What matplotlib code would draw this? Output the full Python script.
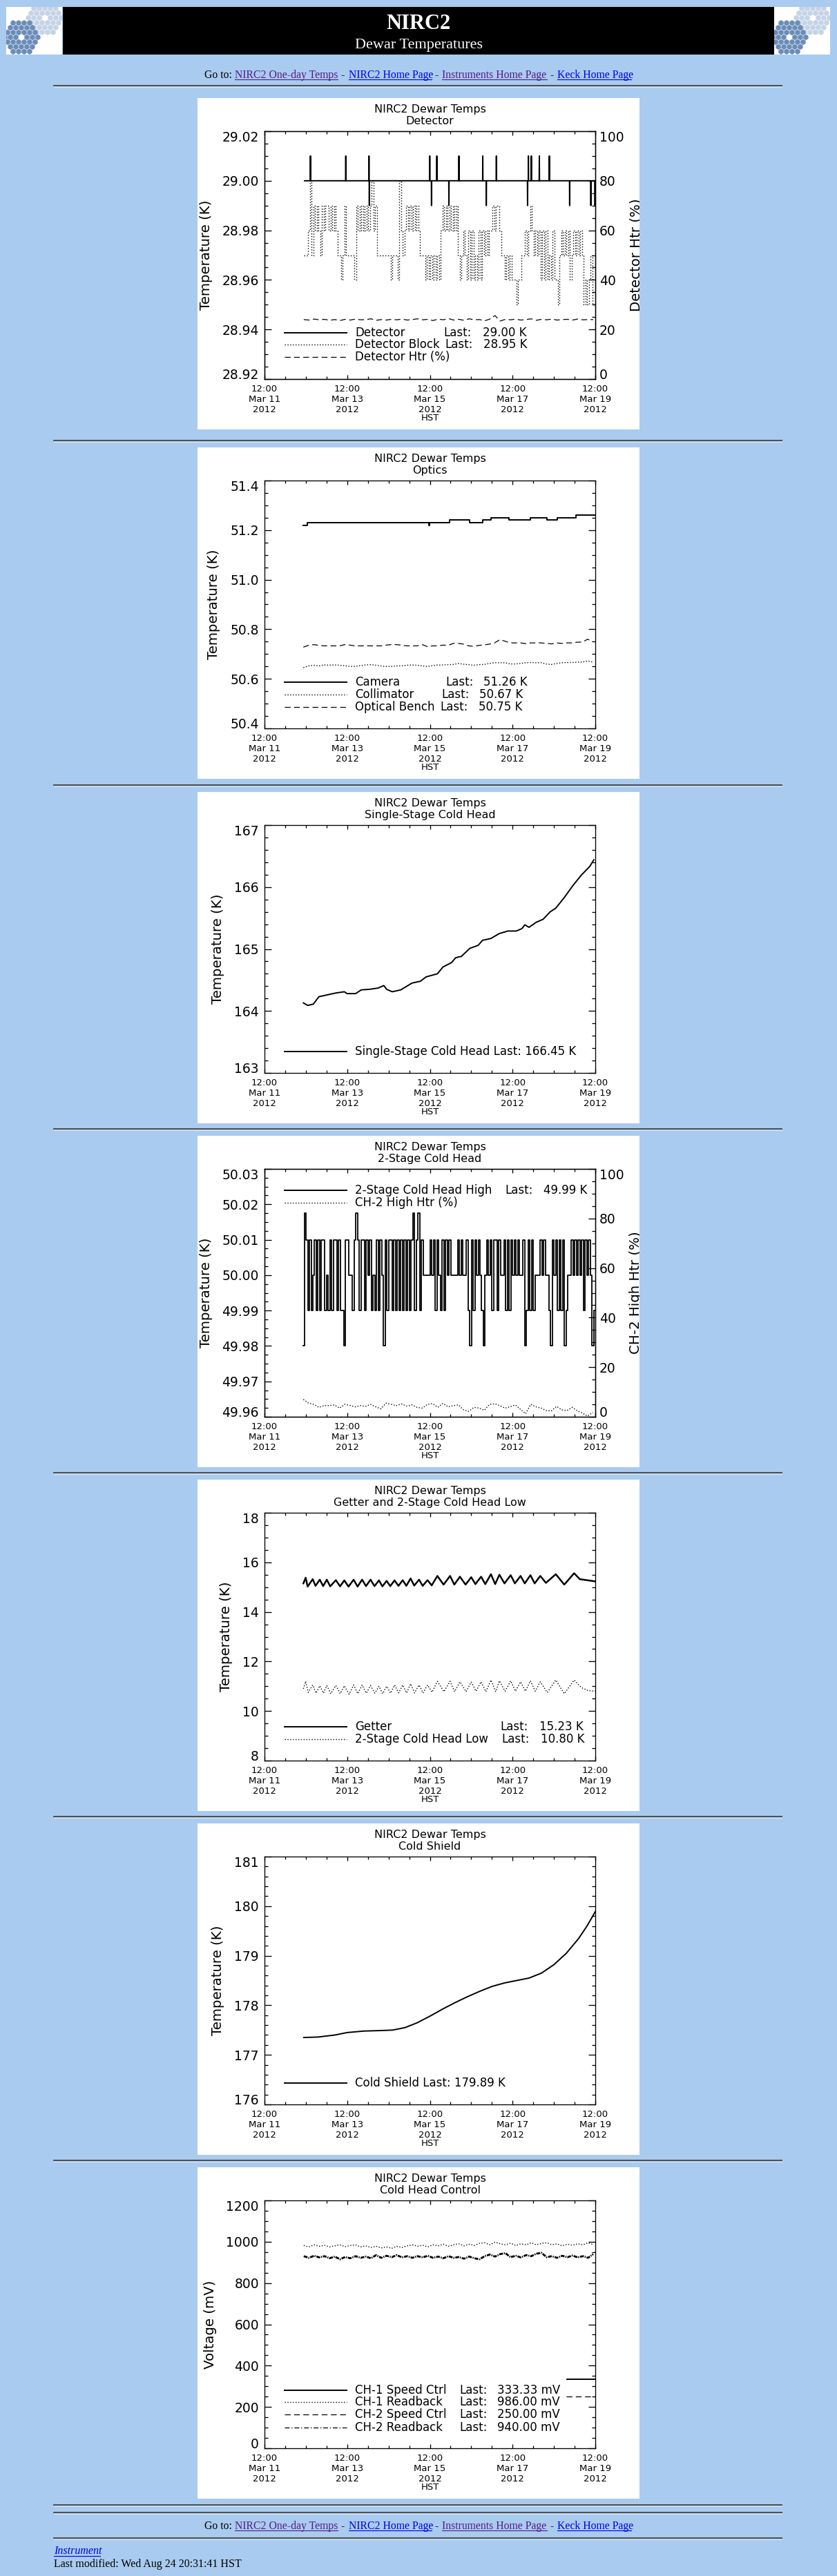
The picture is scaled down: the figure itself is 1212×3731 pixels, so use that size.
import math
from datetime import datetime, timedelta
import matplotlib
matplotlib.use('Agg')
import matplotlib.pyplot as plt
import matplotlib.dates as mdates
from matplotlib.ticker import FixedLocator, FormatStrFormatter, MultipleLocator
from matplotlib.transforms import Affine2D, Bbox
from matplotlib.patches import Rectangle, RegularPolygon
from matplotlib.lines import Line2D

plt.rcParams['font.family'] = ['DejaVu Sans']
plt.rcParams['lines.scale_dashes'] = False
plt.rcParams['axes.linewidth'] = 0.95

W, H = 1212, 3731
BG = '#A9CBEF'
T0 = datetime(2012, 3, 11, 12, 0)

# ------------------------------------------------------------------ data
# common x axis
x_major_days = [0, 2, 4, 6, 8]
x_minor_hours = [12 * i for i in range(17)]

# Panel 1 : Detector
det_base = 29.00
det_start, det_end = 0.97, 8.0
det_spikes = [(1.111, 29.01), (1.966, 29.01), (2.527, 29.01), (2.535, 28.99),
              (3.997, 29.01), (4.039, 28.99), (4.168, 29.01), (4.460, 28.99),
              (4.702, 29.01), (5.279, 29.01), (5.364, 28.99), (5.607, 29.01),
              (6.362, 28.99), (6.383, 29.01), (6.454, 29.01), (6.647, 29.01),
              (6.889, 29.01), (7.380, 28.99), (7.893, 28.99), (7.993, 28.99)]
block_start = 0.95
block_hundredths = [7, 7, 7, 8, 10, 7, 9, 8, 9, 8, 7, 9, 8, 9, 9, 8, 9, 8, 9, 8,
                    7, 7, 6, 7, 9, 7, 7, 7, 7, 7, 6, 9, 8, 9, 8, 9, 8, 9, 8, 9,
                    10, 8, 9, 7, 7, 7, 7, 7, 7, 7, 7, 6, 7, 7, 7, 6, 10, 8, 7, 8,
                    9, 8, 9, 8, 9, 8, 9, 8, 7, 7, 7, 6, 7, 6, 7, 6, 7, 6, 7, 6,
                    8, 9, 8, 9, 8, 9, 8, 9, 8, 9, 7, 6, 7, 8, 7, 6, 8, 6, 8, 6,
                    7, 6, 8, 6, 8, 7, 8, 7, 8, 8, 9, 8, 9, 9, 8, 7, 7, 6, 7, 6,
                    7, 6, 6, 6, 5, 6, 6, 7, 7, 8, 7, 8, 9, 8, 7, 8, 7, 8, 6, 8,
                    6, 8, 6, 7, 6, 8, 6, 6, 5, 7, 8, 7, 8, 7, 8, 6, 7, 8, 7, 8,
                    7, 8, 7, 5, 6, 5, 6, 7, 5, 5]
htr_start = 0.95
htr_pct = [24.0, 23.8, 24.2, 23.9, 24.1, 23.7, 24.0, 23.6, 24.1, 23.8, 24.2, 23.9,
           24.0, 24.3, 23.7, 24.0, 23.8, 24.1, 23.9, 24.2, 23.8, 24.0, 24.3, 23.9,
           24.1, 23.6, 24.2, 23.9, 24.4, 23.8, 24.1, 23.7, 24.3, 23.9, 24.0, 23.5,
           24.2, 25.6, 23.4, 24.1, 23.9, 24.2, 23.8, 24.0, 24.3, 23.7, 24.1, 23.9,
           24.2, 23.8, 24.0, 24.1, 23.8, 24.2, 23.9, 24.0, 24.0]

# Panel 2 : Optics
cam_days = [0.941, 1.030, 3.970, 3.985, 4.474, 4.965, 5.272, 5.300, 5.476, 5.920,
            6.431, 6.827, 7.079, 7.536, 8.0]
cam_vals = [51.22, 51.23, 51.22, 51.23, 51.24, 51.23, 51.24, 51.24, 51.25, 51.24,
            51.25, 51.24, 51.25, 51.26, 51.26]
optics_start = 0.94
bench_vals = [50.728, 50.735, 50.738, 50.735, 50.733, 50.733, 50.733, 50.733, 50.738, 50.736,
              50.733, 50.733, 50.733, 50.733, 50.733, 50.733, 50.736, 50.738, 50.738, 50.736,
              50.733, 50.733, 50.733, 50.738, 50.730, 50.733, 50.733, 50.736, 50.735, 50.743,
              50.743, 50.740, 50.733, 50.731, 50.735, 50.737, 50.740, 50.745, 50.758, 50.752,
              50.745, 50.745, 50.745, 50.742, 50.745, 50.745, 50.745, 50.743, 50.741, 50.745,
              50.743, 50.745, 50.745, 50.748, 50.748, 50.760, 50.750]
coll_vals = [50.645, 50.652, 50.655, 50.652, 50.656, 50.655, 50.656, 50.655, 50.653, 50.650,
             50.650, 50.653, 50.656, 50.657, 50.655, 50.652, 50.650, 50.650, 50.652, 50.652,
             50.655, 50.656, 50.655, 50.652, 50.650, 50.653, 50.656, 50.656, 50.657, 50.658,
             50.662, 50.659, 50.657, 50.655, 50.657, 50.658, 50.662, 50.665, 50.665, 50.665,
             50.660, 50.660, 50.662, 50.665, 50.666, 50.665, 50.665, 50.660, 50.658, 50.662,
             50.665, 50.666, 50.666, 50.667, 50.668, 50.672, 50.668]

# Panel 3 : Single-Stage Cold Head
ss_days = [0.941, 1.043, 1.180, 1.316, 1.521, 1.725, 1.930, 1.998, 2.203, 2.339,
           2.544, 2.748, 2.885, 2.953, 3.089, 3.294, 3.567, 3.771, 3.908, 4.181,
           4.317, 4.522, 4.624, 4.760, 4.965, 5.170, 5.272, 5.476, 5.681, 5.886,
           6.090, 6.227, 6.295, 6.397, 6.568, 6.738, 6.909, 7.045, 7.250, 7.454,
           7.659, 7.863, 7.966]
ss_vals = [164.13, 164.09, 164.11, 164.23, 164.26, 164.29, 164.31, 164.28, 164.28, 164.34,
           164.35, 164.37, 164.41, 164.35, 164.31, 164.34, 164.45, 164.48, 164.55, 164.60,
           164.71, 164.78, 164.86, 164.88, 165.01, 165.06, 165.14, 165.17, 165.25, 165.29,
           165.29, 165.33, 165.39, 165.35, 165.43, 165.48, 165.60, 165.66, 165.83, 166.02,
           166.19, 166.33, 166.44]

# Panel 4 : 2-Stage Cold Head (hourly samples, code per sample)
ch_high_start = 0.94
ch_high_levels = {'8': 49.98, '9': 49.99, '0': 50.00, '1': 50.01, 'S': 50.0175}
ch_high_codes = ("8S19190191" "9119091911" "9199811009" "1S19119101" "9091910819"
                 "1191919191" "9191S91S91" "0000101910" "9191010000" "1010019819"
                 "1010980101" "9119100191" "9101010018" "9191900010" "1009810191"
                 "9189001010" "1019101089")
ch_htr_start = 0.94
ch_htr_pct = [7.0, 5.5, 5.0, 3.8, 4.5, 4.5, 4.8, 3.5, 5.0, 4.6, 4.0, 4.5, 4.2, 5.0, 4.0,
              3.2, 5.5, 5.0, 4.5, 5.2, 4.3, 4.8, 3.8, 3.5, 5.0, 5.3, 3.8, 5.4, 4.0, 4.5,
              4.8, 2.8, 2.2, 3.8, 3.5, 2.6, 5.0, 5.2, 4.5, 3.5, 4.0, 4.8, 3.0, 1.2, 5.0,
              4.0, 3.5, 2.5, 2.4, 4.2, 2.8, 2.5, 3.8, 2.4, 1.5, 0.3, 1.8]

# Panel 5 : Getter and 2-Stage Cold Head Low
getter_days = [0.941, 0.996, 1.043, 1.166, 1.234, 1.337, 1.419, 1.507, 1.589, 1.725,
               1.828, 1.930, 2.032, 2.155, 2.251, 2.360, 2.455, 2.564, 2.660, 2.769,
               2.851, 2.953, 3.042, 3.144, 3.240, 3.342, 3.430, 3.533, 3.621, 3.737,
               3.826, 3.942, 4.044, 4.181, 4.331, 4.488, 4.590, 4.726, 4.863, 4.999,
               5.101, 5.238, 5.340, 5.476, 5.579, 5.681, 5.804, 5.954, 6.056, 6.193,
               6.295, 6.431, 6.534, 6.670, 6.806, 7.045, 7.250, 7.488, 7.625, 8.000]
getter_vals = [15.15, 15.38, 15.02, 15.32, 15.05, 15.30, 15.04, 15.30, 15.03, 15.28,
               15.03, 15.27, 15.02, 15.30, 15.02, 15.30, 15.04, 15.30, 15.04, 15.27,
               15.03, 15.25, 15.04, 15.27, 15.05, 15.28, 15.05, 15.35, 15.06, 15.30,
               15.05, 15.28, 15.07, 15.45, 15.10, 15.45, 15.10, 15.42, 15.10, 15.40,
               15.12, 15.42, 15.12, 15.52, 15.12, 15.50, 15.15, 15.48, 15.15, 15.45,
               15.15, 15.48, 15.15, 15.45, 15.17, 15.52, 15.10, 15.56, 15.32, 15.23]
low_days = [0.941, 0.996, 1.057, 1.166, 1.248, 1.337, 1.425, 1.507, 1.603, 1.725,
            1.835, 1.930, 2.046, 2.155, 2.257, 2.360, 2.462, 2.564, 2.667, 2.769,
            2.858, 2.953, 3.049, 3.144, 3.246, 3.342, 3.437, 3.533, 3.628, 3.737,
            3.833, 3.942, 4.051, 4.181, 4.338, 4.488, 4.597, 4.726, 4.876, 4.999,
            5.115, 5.238, 5.354, 5.476, 5.592, 5.681, 5.817, 5.954, 6.070, 6.193,
            6.309, 6.431, 6.547, 6.670, 6.840, 7.045, 7.250, 7.488, 7.659, 7.829, 8.000]
low_vals = [10.90, 11.20, 10.75, 11.05, 10.72, 11.02, 10.72, 11.03, 10.70, 11.03,
            10.70, 11.02, 10.68, 11.05, 10.70, 11.05, 10.72, 11.03, 10.72, 11.00,
            10.70, 11.00, 10.72, 11.05, 10.73, 11.05, 10.73, 11.10, 10.73, 11.05,
            10.73, 11.05, 10.76, 11.20, 10.78, 11.20, 10.78, 11.18, 10.78, 11.17,
            10.80, 11.18, 10.78, 11.25, 10.78, 11.22, 10.80, 11.22, 10.80, 11.18,
            10.80, 11.22, 10.80, 11.18, 10.75, 11.25, 10.70, 11.25, 10.95, 10.82, 10.80]

# Panel 6 : Cold Shield
cs_days = [0.95, 1.3, 1.7, 2.0, 2.4, 2.8, 3.1, 3.4, 3.7, 4.0, 4.3, 4.6, 4.9, 5.2,
           5.5, 5.8, 6.1, 6.4, 6.7, 7.0, 7.3, 7.6, 7.8, 8.0]
cs_vals = [177.35, 177.36, 177.40, 177.45, 177.48, 177.49, 177.50, 177.55, 177.65,
           177.78, 177.92, 178.05, 178.17, 178.28, 178.38, 178.45, 178.50, 178.55,
           178.65, 178.82, 179.05, 179.35, 179.60, 179.89]

# Panel 7 : Cold Head Control
ch1_speed_days, ch1_speed_vals = [7.31, 8.0], [333.33, 333.33]
ch2_speed_days, ch2_speed_vals = [7.30, 8.0], [250.0, 250.0]
rb_start = 0.95
ch1_rb = [982, 975, 985, 978, 983, 975, 980, 985, 976, 982, 985, 975, 980, 972, 978,
          970, 975, 968, 978, 972, 980, 985, 978, 983, 975, 985, 980, 988, 978, 985,
          990, 980, 988, 982, 992, 995, 985, 998, 990, 985, 993, 982, 990, 985, 995,
          985, 992, 995, 985, 990, 980, 988, 983, 990, 985, 995, 986]
ch2_rb = [930, 922, 932, 924, 930, 920, 928, 915, 926, 920, 930, 922, 928, 920, 935,
          922, 932, 925, 935, 924, 930, 922, 930, 924, 932, 922, 928, 920, 930, 922,
          926, 918, 928, 920, 915, 930, 938, 928, 940, 945, 925, 932, 924, 935, 930,
          942, 946, 925, 930, 922, 932, 925, 933, 924, 930, 922, 940]

# ------------------------------------------------------------------ figure
fig = plt.figure(figsize=(W / 100, H / 100), dpi=100, facecolor=BG)
PX = Affine2D().scale(1.0 / W, -1.0 / H).translate(0, 1) + fig.transFigure


def to_dt(days):
    return [T0 + timedelta(days=d) for d in days]


def seq_days(start, n, step):
    return [start + i * step for i in range(n)]


PANEL_TOPS = [142, 648, 1147, 1645, 2143, 2641, 3139]
PL, PW, PH = 286, 640, 480

SOLID = dict(ls='-', lw=1.4)
DOT = dict(ls=(0, (1.0, 1.8)), lw=1.0)
DASH = dict(ls=(0, (6, 3.6)), lw=0.9)
DASHDOT = dict(ls=(0, (5, 2, 1, 2)), lw=0.9)


def style_x(ax):
    ax.set_xlim(T0, T0 + timedelta(days=8))
    ax.xaxis.set_major_locator(FixedLocator([mdates.date2num(T0 + timedelta(days=d)) for d in x_major_days]))
    ax.xaxis.set_minor_locator(FixedLocator([mdates.date2num(T0 + timedelta(hours=h)) for h in x_minor_hours]))
    ax.xaxis.set_major_formatter(mdates.DateFormatter('%H:%M\n%b %d\n%Y'))
    ax.tick_params(axis='x', which='both', direction='in', top=True, bottom=True, width=0.95)
    ax.tick_params(axis='x', which='major', length=4.5, pad=5.6, labelsize=9.5)
    ax.tick_params(axis='x', which='minor', length=2.9)
    for t in ax.xaxis.get_major_ticks():
        t.label1.set_linespacing(1.2)
    ax.set_xlabel('HST', fontsize=9.5)
    ax.xaxis.set_label_coords(0.5, -0.14)


def style_y(axis_obj, ax, ticks, minor, fmt, side='left'):
    ax.set_ylim(ticks[0], ticks[-1])
    axis_obj.set_major_locator(FixedLocator(ticks))
    axis_obj.set_minor_locator(MultipleLocator(minor))
    axis_obj.set_major_formatter(FormatStrFormatter(fmt))
    pad = 5.8 if side == 'left' else 4.3
    ax.tick_params(axis='y', which='major', direction='in', length=7.2, width=0.95, pad=pad, labelsize=13.5)
    ax.tick_params(axis='y', which='minor', direction='in', length=3.6, width=0.95)
    ticks_objs = axis_obj.get_major_ticks()
    lab = (lambda t: t.label1) if side == 'left' else (lambda t: t.label2)
    lab(ticks_objs[0]).set_va('baseline')
    lab(ticks_objs[-1]).set_va('top')


def make_panel(top, sub, ylabel, yticks, yminor, yfmt, twin=None):
    fig.add_artist(Rectangle((PL, top), PW, PH, transform=PX, facecolor='white',
                             edgecolor='none', zorder=-1))
    ax = fig.add_axes([(PL + 97) / W, 1 - (top + 407) / H, 479 / W, 359 / H])
    ax.set_facecolor('white')
    style_x(ax)
    style_y(ax.yaxis, ax, yticks, yminor, yfmt, 'left')
    ax.tick_params(axis='y', which='both', left=True, right=(twin is None))
    ax.set_ylabel(ylabel, fontsize=14.2, labelpad=10)
    ax.set_title('NIRC2 Dewar Temps\n' + sub, fontsize=11.5, pad=7.2, linespacing=1.15)
    ax2 = None
    if twin is not None:
        rlabel, rticks, rminor = twin
        ax2 = ax.twinx()
        style_y(ax2.yaxis, ax2, rticks, rminor, '%d', 'right')
        ax2.tick_params(axis='y', which='both', right=True, left=False)
        ax2.set_ylabel(rlabel, fontsize=14.2, labelpad=5.5)
        lbl = ax2.yaxis.label
        lbl.set_clip_box(Bbox.from_extents(PL, H - (top + PH), PL + PW, H - top))
        lbl.set_clip_on(True)
    return ax, ax2


def legend_row(top, ry, style, name, last_x=None, value=None, value_x=None):
    y = top + ry
    fig.add_artist(Line2D([PL + 126, PL + 216], [y, y], transform=PX, color='black', **style))
    fig.text(PL + 228, y, name, transform=PX, ha='left', va='center', fontsize=12)
    if last_x is not None:
        fig.text(PL + last_x, y, 'Last:', transform=PX, ha='left', va='center', fontsize=12)
        fig.text(PL + value_x, y, value, transform=PX, ha='left', va='center', fontsize=12)


# ---- Panel 1
top = PANEL_TOPS[0]
ax, ax2 = make_panel(top, 'Detector', 'Temperature (K)',
                     [28.92, 28.94, 28.96, 28.98, 29.00, 29.02], 0.005, '%.2f',
                     twin=('Detector Htr (%)', [0, 20, 40, 60, 80, 100], 5))
det_d, det_v = [det_start], [det_base]
for d, v in det_spikes:
    det_d += [d - 0.004, d, d + 0.004]
    det_v += [det_base, v, det_base]
det_d.append(det_end)
det_v.append(det_base)
ax.plot(to_dt(det_d), det_v, color='black', **SOLID)
block_vals = [28.90 + c / 100.0 for c in block_hundredths]
ax.plot(to_dt(seq_days(block_start, len(block_vals), 1 / 24)), block_vals, color='black',
        drawstyle='steps-mid', **DOT)
ax2.plot(to_dt(seq_days(htr_start, len(htr_pct), 0.125)), htr_pct, color='black', **DASH)
legend_row(top, 340, SOLID, 'Detector', 356, '29.00 K', 413)
legend_row(top, 357, DOT, 'Detector Block', 358, '28.95 K', 414)
legend_row(top, 375, DASH, 'Detector Htr (%)')

# ---- Panel 2
top = PANEL_TOPS[1]
ax, _ = make_panel(top, 'Optics', 'Temperature (K)',
                   [50.4, 50.6, 50.8, 51.0, 51.2, 51.4], 0.05, '%.1f')
ax.plot(to_dt(cam_days), cam_vals, color='black', drawstyle='steps-post', **SOLID)
od = to_dt(seq_days(optics_start, len(coll_vals), 0.125))
ax.plot(od, coll_vals, color='black', **DOT)
ax.plot(od, bench_vals, color='black', **DASH)
legend_row(top, 340, SOLID, 'Camera', 359, '51.26 K', 414)
legend_row(top, 358, DOT, 'Collimator', 353, '50.67 K', 408)
legend_row(top, 376, DASH, 'Optical Bench', 351, '50.75 K', 407)

# ---- Panel 3
top = PANEL_TOPS[2]
ax, _ = make_panel(top, 'Single-Stage Cold Head', 'Temperature (K)',
                   [163, 164, 165, 166, 167], 0.2, '%d')
ax.plot(to_dt(ss_days), ss_vals, color='black', **SOLID)
legend_row(top, 376, SOLID, 'Single-Stage Cold Head Last: 166.45 K')

# ---- Panel 4
top = PANEL_TOPS[3]
ax, ax2 = make_panel(top, '2-Stage Cold Head', 'Temperature (K)',
                     [49.96, 49.97, 49.98, 49.99, 50.00, 50.01, 50.02, 50.03], 0.0025, '%.2f',
                     twin=('CH-2 High Htr (%)', [0, 20, 40, 60, 80, 100], 5))
ch_high_vals = [ch_high_levels[c] for c in ch_high_codes]
ax.plot(to_dt(seq_days(ch_high_start, len(ch_high_vals), 1 / 24)), ch_high_vals,
        color='black', ls='-', lw=1.3, drawstyle='steps-mid')
ax2.plot(to_dt(seq_days(ch_htr_start, len(ch_htr_pct), 0.125)), ch_htr_pct, color='black', **DOT)
legend_row(top, 79, SOLID, '2-Stage Cold Head High', 445, '49.99 K', 501)
legend_row(top, 97, DOT, 'CH-2 High Htr (%)')

# ---- Panel 5
top = PANEL_TOPS[4]
ax, _ = make_panel(top, 'Getter and 2-Stage Cold Head Low', 'Temperature (K)',
                   [8, 10, 12, 14, 16, 18], 0.5, '%d')
ax.plot(to_dt(getter_days), getter_vals, color='black', ls='-', lw=1.8)
ax.plot(to_dt(low_days), low_vals, color='black', **DOT)
legend_row(top, 358, SOLID, 'Getter', 438, '15.23 K', 495)
legend_row(top, 376, DOT, '2-Stage Cold Head Low', 440, '10.80 K', 497)

# ---- Panel 6
top = PANEL_TOPS[5]
ax, _ = make_panel(top, 'Cold Shield', 'Temperature (K)',
                   [176, 177, 178, 179, 180, 181], 0.2, '%d')
ax.plot(to_dt(cs_days), cs_vals, color='black', **SOLID)
legend_row(top, 376, SOLID, 'Cold Shield Last: 179.89 K')

# ---- Panel 7
top = PANEL_TOPS[6]
ax, _ = make_panel(top, 'Cold Head Control', 'Voltage (mV)',
                   [0, 200, 400, 600, 800, 1000, 1200], 50, '%d')
ax.plot(to_dt(ch1_speed_days), ch1_speed_vals, color='black', **SOLID)
rbd = to_dt(seq_days(rb_start, len(ch1_rb), 0.125))
ax.plot(rbd, ch1_rb, color='black', **DOT)
ax.plot(to_dt(ch2_speed_days), ch2_speed_vals, color='black', **DASH)
ax.plot(rbd, ch2_rb, color='black', ls=(0, (4, 1.0, 1, 1.0)), lw=2.0)
legend_row(top, 323, SOLID, 'CH-1 Speed Ctrl', 379, '333.33 mV', 434)
legend_row(top, 340, DOT, 'CH-1 Readback', 379, '986.00 mV', 434)
legend_row(top, 358, DASH, 'CH-2 Speed Ctrl', 379, '250.00 mV', 434)
legend_row(top, 377, DASHDOT, 'CH-2 Readback', 379, '940.00 mV', 434)

# ------------------------------------------------------------------ page decorations
SERIF = ['Liberation Serif', 'DejaVu Serif']
PURPLE, BLUE = '#551A8B', '#0000EE'


def hr(y):
    fig.add_artist(Line2D([78, 1132], [y, y], transform=PX, color='#4e4e4e', lw=1.4))
    fig.add_artist(Line2D([78, 1132], [y + 1.6, y + 1.6], transform=PX, color='#dce6f2', lw=0.7))


for y in [124, 638, 1137, 1635, 2133, 2631, 3129, 3628, 3639, 3676]:
    hr(y)

# banner
fig.add_artist(Rectangle((91, 10), 1030, 69, transform=PX, facecolor='black', edgecolor='none'))
fig.text(606, 42, 'NIRC2', transform=PX, color='white', fontsize=22, fontweight='bold',
         family=SERIF, ha='center', va='baseline')
fig.text(606, 70, 'Dewar Temperatures', transform=PX, color='white', fontsize=16,
         family=SERIF, ha='center', va='baseline')


def draw_logo(x0):
    box = Rectangle((x0, 10), 81, 69, transform=PX, facecolor='white', edgecolor='none')
    fig.add_artist(box)
    s = 4.6
    for cx, cy, col in [(x0 + 56, 26, '#C5D3E7'), (x0 + 22, 54, '#6B8CB8')]:
        for q in range(-3, 4):
            for r in range(-3, 4):
                ring = max(abs(q), abs(r), abs(q + r))
                if 1 <= ring <= 3:
                    hx = cx + s * math.sqrt(3) * (q + r / 2.0)
                    hy = cy + s * 1.5 * r
                    p = RegularPolygon((hx, hy), 6, radius=s * 0.92, orientation=0,
                                       transform=PX, facecolor=col, edgecolor='none')
                    p.set_clip_path(box)
                    fig.add_artist(p)


draw_logo(9)
draw_logo(1121)

nav_pieces = [('Go to:', 296, None, 'black'),
              ('NIRC2 One-day Temps', 340, 489, PURPLE),
              ('-', 493, None, 'black'),
              ('NIRC2 Home Page', 505, 625, BLUE),
              ('-', 629, None, 'black'),
              ('Instruments Home Page', 640, 792, PURPLE),
              ('-', 796, None, 'black'),
              ('Keck Home Page', 807, 914, BLUE)]


def nav(baseline):
    for txt, x, xe, col in nav_pieces:
        fig.text(x, baseline, txt, transform=PX, color=col, fontsize=11.3, family=SERIF,
                 ha='left', va='baseline')
        if xe is not None:
            fig.add_artist(Line2D([x, xe], [baseline + 2, baseline + 2], transform=PX,
                                  color=col, lw=0.8))


nav(113)
nav(3663)

fig.text(78, 3699, 'Instrument', transform=PX, color=BLUE, fontsize=11.5, family=SERIF,
         style='italic', ha='left', va='baseline')
fig.add_artist(Line2D([78, 145], [3702, 3702], transform=PX, color=BLUE, lw=0.8))
fig.text(78, 3718, 'Last modified: Wed Aug 24 20:31:41 HST', transform=PX, color='black',
         fontsize=11.5, family=SERIF, ha='left', va='baseline')

fig.savefig('out.png', dpi=100, facecolor=BG)
